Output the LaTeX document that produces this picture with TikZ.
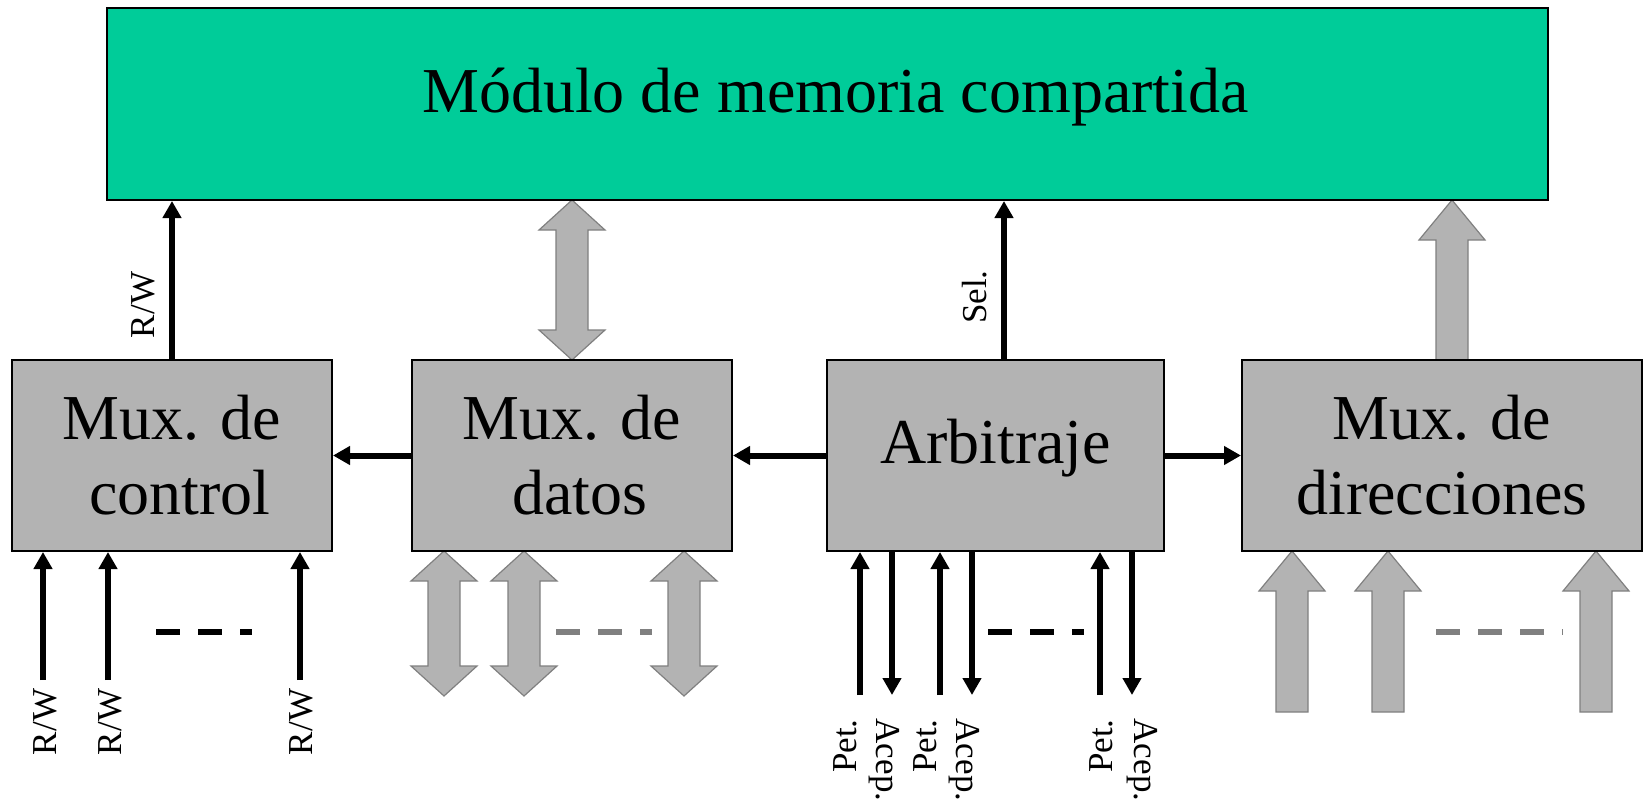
\documentclass[tikz,border=0pt]{standalone}
\usepackage{fontspec}
\setmainfont{Liberation Serif}
\usepackage{tikz}
\usetikzlibrary{positioning}
\usetikzlibrary{arrows.meta,shapes}
\usetikzlibrary{calc}
\definecolor{memgreen}{RGB}{0,204,153}
\definecolor{boxgray}{RGB}{179,179,179}
\definecolor{busedge}{RGB}{128,128,128}
\tikzstyle{muxbox}=[rectangle,draw=black,line width=1pt,fill=boxgray,inner sep=0pt,minimum height=95.5pt,align=center,font=\fontsize{32}{37.5}\selectfont]
\tikzstyle{membox}=[rectangle,draw=black,line width=1pt,fill=memgreen,inner sep=0pt,minimum width=720.5pt,minimum height=96pt]
\tikzstyle{sig} = [draw,line width=3pt,-{Triangle[length=8.5pt,width=9pt]}]
\tikzstyle{siglabel} = [inner sep=0pt,font=\fontsize{17.5}{21}\selectfont]
\tikzstyle{bus} = [fill=boxgray,draw=busedge,line width=0.6pt,line join=miter]
\tikzstyle{dotline} = [line width=2.8pt,dash pattern=on 12pt off 9pt]

% wide two-way bus: x, top, bottom
\newcommand{\dblbus}[3]{%
  \path[bus] (#1,#2) -- ({#1+33},{#2+30}) -- ({#1+16},{#2+30}) -- ({#1+16},{#3-30}) -- ({#1+33},{#3-30})
    -- (#1,#3) -- ({#1-33},{#3-30}) -- ({#1-16},{#3-30}) -- ({#1-16},{#2+30}) -- ({#1-33},{#2+30}) -- cycle;}
% wide one-way bus pointing up: x, top, bottom
\newcommand{\upbus}[3]{%
  \path[bus] (#1,#2) -- ({#1+33},{#2+40}) -- ({#1+16},{#2+40}) -- ({#1+16},#3)
    -- ({#1-16},#3) -- ({#1-16},{#2+40}) -- ({#1-33},{#2+40}) -- cycle;}

\begin{document}
\begin{tikzpicture}[x=0.5pt,y=-0.5pt]
    \useasboundingbox (0,0) rectangle (1644,803);

    % buses
    \dblbus{572}{200}{360}
    \foreach \x in {444,524,684} {
        \dblbus{\x}{551}{696}
    }
    \upbus{1452}{200}{360}
    \foreach \x in {1292,1388,1596} {
        \upbus{\x}{551}{712}
    }

    \node[membox] (mem) at (827.5,104) {};
    \node[anchor=base,inner sep=0pt,font=\fontsize{32}{37.5}\selectfont] (memtxt) at (835.5,112) {Módulo de memoria compartida};

    \node[muxbox, minimum width=160pt] (ctrl) at (172,455.5) {Mux. de\\ \hspace*{0.25em}control};
    \node[muxbox, minimum width=160pt] (datos) at (572,455.5) {Mux. de\\ \hspace*{0.25em}datos};
    \node[muxbox, minimum width=168.5pt, text depth=14.4pt] (arb) at (995.5,455.5) {Arbitraje};
    \node[muxbox, minimum width=200pt] (dir) at (1442,455.5) {Mux. de\\ direcciones};

    \path[sig] (datos.west) -- (ctrl.east);
    \path[sig] (arb.west) -- (datos.east);
    \path[sig] (arb.east) -- (dir.west);

    \path[sig] (ctrl.north) -- (ctrl.north |- mem.south);
    \path[sig] ([xshift=4.25pt]arb.north) -- ([xshift=4.25pt]arb.north |- mem.south);
    \node[siglabel, rotate=90] (rwtop) at (143,305) {R/W};
    \node[siglabel, rotate=90] (sel) at (975,297) {Sel.};

    % inputs of the control mux
    \foreach \x/\lx [count=\i] in {43/45, 108/110, 300/301} {
        \coordinate (rw\i) at (\x,680);
        \path[sig] (rw\i) -- (rw\i |- ctrl.south);
        \node[siglabel, rotate=90] (rwl\i) at (\lx,722) {R/W};
    }

    % requests and grants
    \foreach \x/\lx [count=\i] in {860/845.5, 940/925.5, 1100/1101.5} {
        \coordinate (pet\i) at (\x,695);
        \path[sig] (pet\i) -- (pet\i |- arb.south);
        \node[siglabel, rotate=90] (petl\i) at (\lx,746) {Pet.};
    }
    \foreach \x/\lx [count=\i] in {892/884, 972/964, 1132/1142} {
        \coordinate (acep\i) at (\x,695);
        \path[sig] (acep\i |- arb.south) -- (acep\i);
        \node[siglabel, rotate=-90] (acepl\i) at (\lx,760) {Acep.};
    }

    \draw[dotline, black] (156,632) -- (252,632);
    \draw[dotline, busedge] (556,632) -- (652,632);
    \draw[dotline, black] (988,632) -- (1084,632);
    \draw[dotline, busedge] (1436,632) -- (1563,632);
\end{tikzpicture}
\end{document}
